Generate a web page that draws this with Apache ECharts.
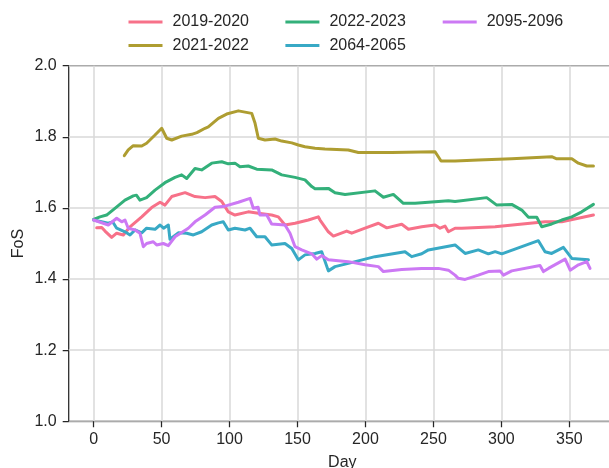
<!DOCTYPE html>
<html>
<head>
<meta charset="utf-8">
<script src="https://cdn.jsdelivr.net/npm/echarts@6/dist/echarts.min.js"></script>
<style>
html,body{margin:0;padding:0;background:#fff;}
#chart{width:609px;height:468px;}
</style>
</head>
<body>
<div id="chart"></div>
<script>
// ---- data (day, FoS) ----
const seriesNames = ['2019-2020', '2021-2022', '2022-2023', '2064-2065', '2095-2096'];
const seriesColors = ['#f77189', '#ae9d31', '#33b07a', '#38a9c5', '#cc79f4'];
const xTickValues = [0, 50, 100, 150, 200, 250, 300, 350];
const yTickValues = [1.0, 1.2, 1.4, 1.6, 1.8, 2.0];

const fos2019 = [[2.3,1.544],[6,1.545],[8.4,1.535],[13.3,1.517],[17,1.529],[21.9,1.524],[26.8,1.547],[35.4,1.575],[42.7,1.601],[48.9,1.616],[52.5,1.608],[57.5,1.632],[67.3,1.643],[74.6,1.632],[82,1.629],[89.3,1.632],[94.3,1.618],[99.1,1.589],[104,1.58],[113.8,1.589],[121.2,1.585],[131,1.58],[135.9,1.575],[140.8,1.552],[148.2,1.557],[158,1.566],[165.3,1.575],[166.6,1.566],[172.7,1.533],[176.4,1.521],[186.2,1.535],[189.9,1.529],[199.7,1.543],[209.5,1.557],[215.7,1.544],[226.7,1.554],[231.6,1.54],[241.4,1.547],[251.2,1.552],[254.9,1.543],[258.5,1.549],[261,1.533],[265.9,1.543],[270.8,1.543],[295.4,1.547],[332.1,1.561],[344.4,1.561],[367.7,1.58]];

const fos2021 = [[22.6,1.747],[25.5,1.763],[29.2,1.775],[35.4,1.774],[39,1.782],[45.2,1.805],[50.1,1.824],[53.8,1.796],[57.5,1.791],[64.8,1.802],[72.2,1.807],[76,1.812],[82,1.824],[84.4,1.828],[91.8,1.852],[97.9,1.864],[106.5,1.873],[116.3,1.866],[118.8,1.838],[121.2,1.796],[126.1,1.791],[133.5,1.794],[138.4,1.788],[145.8,1.783],[150.6,1.777],[155.5,1.772],[162.9,1.768],[170.2,1.766],[187.4,1.763],[194.8,1.756],[219.3,1.756],[251.2,1.758],[253.6,1.744],[255.6,1.732],[265.9,1.732],[283,1.735],[307.6,1.738],[337,1.744],[340.7,1.738],[351.8,1.738],[356.6,1.726],[362.8,1.718],[367.7,1.718]];

const fos2022 = [[0,1.568],[4.7,1.575],[9.6,1.58],[15.7,1.599],[23.1,1.622],[29.2,1.634],[31.5,1.636],[34.1,1.622],[39,1.629],[45.2,1.65],[52.5,1.671],[59.9,1.686],[64.8,1.693],[68.5,1.683],[74.6,1.711],[79.5,1.707],[86.9,1.726],[94.3,1.73],[99.1,1.724],[104,1.726],[107.7,1.716],[113.8,1.718],[120,1.709],[131,1.707],[138.4,1.693],[148.2,1.686],[155.5,1.679],[160.5,1.66],[162.9,1.654],[172.7,1.655],[177.6,1.643],[185,1.638],[207,1.648],[213.2,1.63],[220.5,1.638],[227.9,1.613],[236.5,1.613],[261,1.62],[265.9,1.618],[289.2,1.629],[296.6,1.608],[307.6,1.61],[315,1.594],[319.9,1.574],[326,1.574],[329.7,1.547],[337,1.555],[344.4,1.566],[351.8,1.575],[359.1,1.589],[367.7,1.61]];

const fos2064 = [[0,1.566],[10.8,1.557],[14,1.561],[17,1.543],[23.1,1.533],[26.8,1.524],[30.5,1.538],[35.4,1.53],[39,1.543],[45.2,1.54],[48.9,1.552],[51.5,1.543],[55,1.552],[56.2,1.512],[62.3,1.53],[68.5,1.529],[73.4,1.524],[79.5,1.533],[86.9,1.552],[91.8,1.558],[95.4,1.561],[99.1,1.538],[104,1.543],[111.4,1.538],[115.1,1.543],[120,1.519],[126.1,1.519],[131,1.496],[140.8,1.5],[145.8,1.486],[150.6,1.454],[155.5,1.468],[162.9,1.472],[167.8,1.477],[172.7,1.423],[177.6,1.435],[187.4,1.444],[207,1.463],[229.1,1.477],[234,1.463],[241.4,1.471],[246.3,1.482],[265.9,1.496],[267.2,1.496],[273.3,1.472],[283,1.482],[290.4,1.471],[295.4,1.477],[300.3,1.471],[327.2,1.508],[332.1,1.477],[337,1.472],[345.6,1.489],[351.8,1.458],[359.1,1.456],[364,1.454]];

const fos2095 = [[0,1.566],[7.1,1.557],[10.8,1.552],[17,1.571],[20.7,1.561],[23.1,1.566],[25.5,1.543],[30.5,1.538],[34.1,1.529],[36.6,1.491],[39,1.5],[43.9,1.505],[46.4,1.496],[51.3,1.5],[55,1.494],[59.9,1.519],[69.7,1.543],[74.6,1.561],[82,1.58],[89.3,1.602],[96.7,1.605],[106.5,1.616],[115.1,1.627],[117.5,1.599],[121,1.602],[122.4,1.58],[127.4,1.58],[131,1.555],[140.8,1.552],[144.5,1.529],[148.2,1.491],[153.1,1.482],[160.5,1.471],[164.2,1.456],[167.8,1.466],[172.7,1.454],[187.4,1.449],[199.7,1.44],[209.5,1.435],[213.2,1.421],[226.7,1.427],[241.4,1.43],[253.6,1.43],[261,1.425],[265.9,1.411],[268.3,1.402],[273.3,1.399],[283,1.411],[290.4,1.421],[299,1.423],[301.5,1.411],[307.6,1.423],[328.4,1.438],[330.9,1.421],[334.6,1.43],[346.9,1.456],[350.6,1.425],[356.7,1.44],[362.8,1.449],[365.2,1.43]];

const seriesData = [fos2019, fos2021, fos2022, fos2064, fos2095];

// ---- chart ----
const chart = echarts.init(document.getElementById('chart'), null, {renderer: 'canvas'});
const FONT = 'Liberation Sans, Arial, sans-serif';
const TXT = '#262626';

function legendBlock(names, left) {
  return {
    data: names,
    orient: 'vertical',
    left: left,
    top: 8,
    itemWidth: 34,
    itemHeight: 3,
    itemGap: 5.5,
    icon: 'rect',
    textStyle: {fontFamily: FONT, fontSize: 16, color: TXT, lineHeight: 18, padding: [0, 0, 0, 5]}
  };
}

const option = {
  animation: false,
  backgroundColor: '#ffffff',
  color: seriesColors,
  legend: [
    legendBlock([seriesNames[0], seriesNames[1]], 123.5),
    legendBlock([seriesNames[2], seriesNames[3]], 280.4),
    legendBlock([seriesNames[4]], 437.7)
  ],
  grid: {
    left: 68.7, top: 65.7, width: 547.3, height: 355.6,
    containLabel: false,
    outerBoundsMode: 'none',
    show: true, borderColor: '#262626', borderWidth: 1.25, backgroundColor: 'transparent'
  },
  xAxis: {
    type: 'value',
    min: -18.3, max: 384.3,
    name: 'Day', nameLocation: 'middle', nameGap: 33,
    nameTextStyle: {fontFamily: FONT, fontSize: 16, color: TXT},
    axisLine: {show: false, onZero: false},
    axisTick: {show: true, length: 6, customValues: xTickValues, lineStyle: {color: '#262626', width: 1.25}},
    axisLabel: {customValues: xTickValues, fontFamily: FONT, fontSize: 16, color: TXT, margin: 10},
    splitLine: {show: true, lineStyle: {color: '#d9d9d9', width: 1.5}}
  },
  yAxis: {
    type: 'value',
    min: 1.0, max: 2.0, interval: 0.2,
    name: 'FoS', nameLocation: 'middle', nameGap: 42, nameRotate: 90,
    nameMoveOverlap: false,
    nameTextStyle: {fontFamily: FONT, fontSize: 16, color: TXT},
    axisLine: {show: false, onZero: false},
    axisTick: {show: true, length: 6, lineStyle: {color: '#262626', width: 1.25}},
    axisLabel: {fontFamily: FONT, fontSize: 16, color: TXT, margin: 12,
      formatter: v => v.toFixed(1)},
    splitLine: {show: true, lineStyle: {color: '#d9d9d9', width: 1.5}}
  },
  series: seriesNames.map((n, i) => ({
    name: n,
    type: 'line',
    data: seriesData[i],
    showSymbol: false,
    symbol: 'none',
    lineStyle: {width: 3, cap: 'round', join: 'round'}
  }))
};
chart.setOption(option);
</script>
</body>
</html>
